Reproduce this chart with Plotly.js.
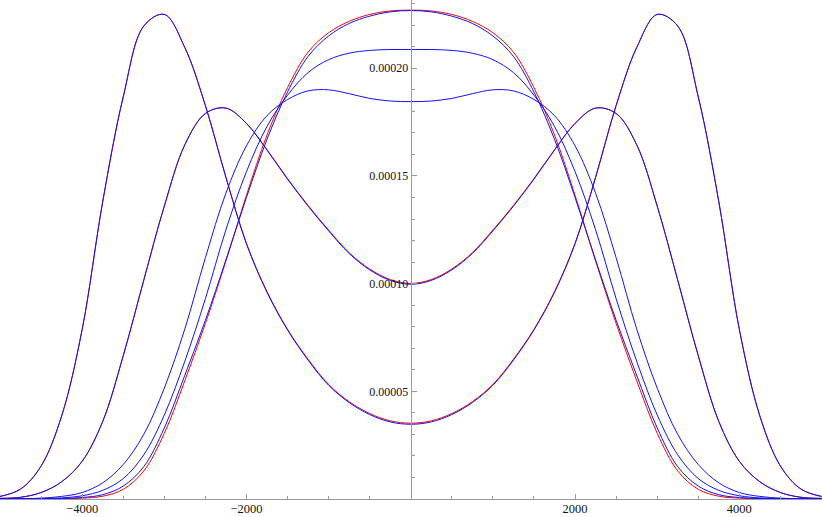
<!DOCTYPE html>
<html><head><meta charset="utf-8">
<script src="https://cdn.plot.ly/plotly-3.0.1.min.js"></script>
<style>html,body{margin:0;padding:0;background:#fff;}#chart{width:822px;height:517px;}</style>
</head><body><div id="chart"></div>
<script>
// x positions of the samples
const xPos = [-5000,-4750,-4500,-4250,-4000,-3750,-3500,-3250,-3000,-2750,-2500,-2250,-2000,-1750,-1500,-1250,-1000,-750,-500,-250,0,
              250,500,750,1000,1250,1500,1750,2000,2250,2500,2750,3000,3250,3500,3750,4000,4250,4500,4750,5000];
// values in units of 1e-5
const curveA = [0.12,0.46,1.53,3.85,7.87,13.8,18.67,21.96,22.5,20.96,18.27,14.93,11.85,9.6,7.85,6.45,5.28,4.48,3.92,3.58,3.47,
                3.58,3.92,4.48,5.28,6.45,7.85,9.6,11.85,14.93,18.27,20.96,22.5,21.96,18.67,13.8,7.87,3.85,1.53,0.46,0.12];
const curveB = [0.03,0.08,0.3,0.8,1.75,3.6,6.65,10.16,13.6,16.45,17.9,18.15,17.44,16.2,14.85,13.6,12.45,11.4,10.64,10.15,9.97,
                10.15,10.64,11.4,12.45,13.6,14.85,16.2,17.44,18.15,17.9,16.45,13.6,10.16,6.65,3.6,1.75,0.8,0.3,0.08,0.03];
const curveC = [0,0.01,0.04,0.12,0.3,0.75,1.6,3.0,5.15,7.9,11.2,14.2,16.4,17.8,18.55,18.95,19.0,18.82,18.6,18.48,18.45,
                18.48,18.6,18.82,19.0,18.95,18.55,17.8,16.4,14.2,11.2,7.9,5.15,3.0,1.6,0.75,0.3,0.12,0.04,0.01,0];
const curveD = [0,0.004,0.015,0.05,0.15,0.4,0.95,2.05,3.9,6.4,9.3,12.5,15.2,17.3,18.75,19.8,20.4,20.7,20.83,20.87,20.87,
                20.87,20.83,20.7,20.4,19.8,18.75,17.3,15.2,12.5,9.3,6.4,3.9,2.05,0.95,0.4,0.15,0.05,0.015,0.004,0];
const curveE = [0,0,0.005,0.02,0.07,0.2,0.6,1.5,3.3,5.75,8.3,11.1,14.0,16.7,18.9,20.55,21.5,22.08,22.42,22.62,22.68,
                22.62,22.42,22.08,21.5,20.55,18.9,16.7,14.0,11.1,8.3,5.75,3.3,1.5,0.6,0.2,0.07,0.02,0.005,0,0];
// red reference curves (mostly hidden under the blue ones)
const redA = [0.12,0.46,1.53,3.85,7.87,13.8,18.67,21.96,22.5,20.96,18.27,14.95,11.87,9.63,7.88,6.49,5.32,4.52,3.97,3.63,3.52,
              3.63,3.97,4.52,5.32,6.49,7.88,9.63,11.87,14.95,18.27,20.96,22.5,21.96,18.67,13.8,7.87,3.85,1.53,0.46,0.12];
const redB = [0.03,0.08,0.3,0.8,1.75,3.6,6.65,10.16,13.6,16.45,17.9,18.15,17.44,16.22,14.88,13.63,12.49,11.44,10.68,10.19,10.01,
              10.19,10.68,11.44,12.49,13.63,14.88,16.22,17.44,18.15,17.9,16.45,13.6,10.16,6.65,3.6,1.75,0.8,0.3,0.08,0.03];
const redE = [0,0,0.003,0.012,0.04,0.13,0.45,1.3,3.05,5.5,8.15,11.05,14.1,16.9,19.1,20.75,21.65,22.18,22.5,22.66,22.7,
              22.66,22.5,22.18,21.65,20.75,19.1,16.9,14.1,11.05,8.15,5.5,3.05,1.3,0.45,0.13,0.04,0.012,0.003,0,0];

const xTickVals = [-4000,-2000,2000,4000];
const xTickText = ['\u22124000','\u22122000','2000','4000'];
const xMinorVals = [-5000,-4500,-3500,-3000,-2500,-1500,-1000,-500,500,1000,1500,2500,3000,3500,4500,5000];
const yTickVals = [5,10,15,20];
const yTickText = ['0.00005','0.00010','0.00015','0.00020'];
const yMinorVals = [1,2,3,4,6,7,8,9,11,12,13,14,16,17,18,19,21,22,23];

const xRange = [-5000, 5006];
const yRange = [0, 23.17];

function tr(y, color, w){
  return {x:xPos, y:y, type:'scatter', mode:'lines',
          line:{color:color, width:w, shape:'spline', smoothing:1}, hoverinfo:'skip'};
}
const data = [
  tr(redA,'#ff0000',1.0), tr(redB,'#ff0000',1.0), tr(redE,'#ff0000',1.0),
  tr(curveA,'#1010ff',1.0), tr(curveB,'#1010ff',1.0), tr(curveC,'#1010ff',1.0), tr(curveD,'#1010ff',1.0), tr(curveE,'#1010ff',1.0)
];
const axCol = '#9a9a9a';
const layout = {
  width:822, height:517,
  margin:{l:0, r:0, t:0, b:18, pad:0},
  paper_bgcolor:'#fff', plot_bgcolor:'#fff',
  showlegend:false, hovermode:false,
  font:{family:'"Liberation Serif", "Times New Roman", serif', size:12.5, color:'#111'},
  xaxis:{range:xRange, showgrid:false, zeroline:false, showline:true, linecolor:axCol, linewidth:1,
         ticks:'inside', ticklen:5, tickcolor:axCol, tickwidth:1, ticklabelstandoff:-2,
         tickfont:{size:12.5},
         tickmode:'array', tickvals:xTickVals, ticktext:xTickText, automargin:false,
         minor:{tickmode:'array', tickvals:xMinorVals, ticks:'inside', ticklen:3, tickcolor:axCol, showgrid:false}},
  yaxis:{range:yRange, anchor:'free', position:(0 - xRange[0])/(xRange[1]-xRange[0]),
         showgrid:false, zeroline:false, showline:true, linecolor:axCol, linewidth:1,
         ticks:'inside', ticklen:5, tickcolor:axCol, tickwidth:1,
         tickfont:{size:12},
         tickmode:'array', tickvals:yTickVals, ticktext:yTickText, automargin:false,
         minor:{tickmode:'array', tickvals:yMinorVals, ticks:'inside', ticklen:3, tickcolor:axCol, showgrid:false}}
};
Plotly.newPlot('chart', data, layout, {staticPlot:true, displayModeBar:false});
</script>
</body></html>
